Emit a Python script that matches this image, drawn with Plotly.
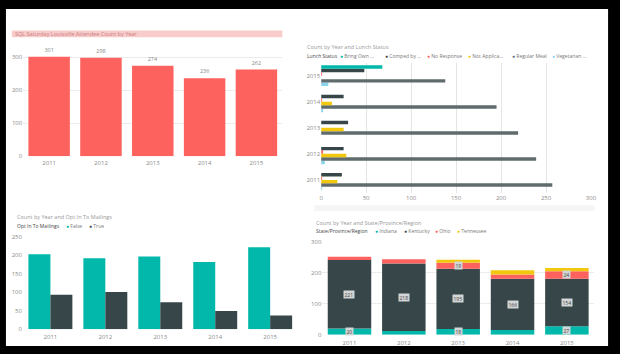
import plotly.graph_objects as go

W, H = 620, 354

def px(x):
    return x / W

def py(y):
    return 1 - y / H

# ---------------- data ----------------
years = ["2011", "2012", "2013", "2014", "2015"]
attendees = [301, 298, 274, 236, 262]

lunch_names = ["Bring Own ...", "Comped by ...", "No Response", "Not Applica...", "Regular Meal", "Vegetarian ..."]
bring_own = [0, 0, 0, 0, 68]
comped = [23, 25, 30, 25, 48]
no_response = [1, 2, 0, 1, 1]
not_applicable = [18, 28, 25, 12, 0]
regular_meal = [257, 239, 219, 195, 138]
vegetarian = [1, 4, 0, 2, 8]

opt_names = ["False", "True"]
opt_false = [203, 192, 197, 182, 222]
opt_true = [93, 101, 73, 49, 37]

state_names = ["Indiana", "Kentucky", "Ohio", "Tennessee"]
indiana = [20, 12, 18, 15, 27]
kentucky = [221, 218, 195, 166, 154]
ohio = [11, 14, 19, 13, 24]
tennessee = [0, 0, 10, 14, 10]

# ---------------- style ----------------
TEAL = "#01B8AA"
DARK = "#374649"
RED = "#FD625E"
YELLOW = "#F2C80F"
GRAY = "#5F6B6D"
LBLUE = "#8AD4EB"
FONT = "Open Sans"
TICK = dict(family=FONT, size=6, color="#8a8a8a")
GRID = "#ececec"

fig = go.Figure()

# Panel 1: attendee count
fig.add_trace(go.Bar(
    x=years, y=attendees, marker_color=RED, marker_line_width=0,
    text=[str(v) for v in attendees], textposition="outside",
    textfont=dict(family=FONT, size=5.5, color="#888"), cliponaxis=False,
    xaxis="x", yaxis="y", showlegend=False))

# Panel 2: lunch status (horizontal grouped)
lunch_series = [
    (lunch_names[0], bring_own, TEAL),
    (lunch_names[1], comped, DARK),
    (lunch_names[2], no_response, RED),
    (lunch_names[3], not_applicable, YELLOW),
    (lunch_names[4], regular_meal, GRAY),
    (lunch_names[5], vegetarian, LBLUE),
]
for name, vals, col in reversed(lunch_series):
    fig.add_trace(go.Bar(
        y=years, x=vals, orientation="h", name=name, marker_color=col,
        marker_line_width=0, xaxis="x2", yaxis="y2", showlegend=False))

# Panel 3: opt in
for name, vals, col in [(opt_names[0], opt_false, TEAL), (opt_names[1], opt_true, DARK)]:
    fig.add_trace(go.Bar(
        x=years, y=vals, name=name, marker_color=col, marker_line_width=0,
        xaxis="x3", yaxis="y3", showlegend=False))

# Panel 4: state stacked (explicit base, fixed width/offset)
state_series = [
    (state_names[0], indiana, TEAL),
    (state_names[1], kentucky, DARK),
    (state_names[2], ohio, RED),
    (state_names[3], tennessee, YELLOW),
]
base = [0] * len(years)
annotations = []
for name, vals, col in state_series:
    fig.add_trace(go.Bar(
        x=years, y=vals, base=list(base), name=name, marker_color=col,
        marker_line_width=0, width=0.8, offset=-0.4, xaxis="x4", yaxis="y4",
        showlegend=False))
    for i, (b, v) in enumerate(zip(base, vals)):
        if v >= 17:
            annotations.append(dict(
                x=i, y=b + v / 2, xref="x4", yref="y4", text=str(v),
                showarrow=False, font=dict(family=FONT, size=5, color="#444"),
                bgcolor="#d3d6d6", borderpad=0.5))
    base = [b + v for b, v in zip(base, vals)]

# ---------------- titles & legends ----------------
def note(x, y, text, size=5.5, color="#999", anchor="left"):
    annotations.append(dict(
        x=px(x), y=py(y), xref="paper", yref="paper", text=text,
        showarrow=False, xanchor=anchor, yanchor="middle",
        font=dict(family=FONT, size=size, color=color)))

def legend(x_title, y, title, items):
    note(x_title, y, title, size=5, color="#444")
    for xc, label, col in items:
        note(xc - 2.5, y, '<span style="color:%s">\u25CF</span> %s' % (col, label), size=5, color="#777")

note(11, 30.5, "SQL Saturday Louisville Attendee Count by Year", size=5.5, color="#c98080")
note(306.5, 44, "Count by Year and Lunch Status", size=5.5)
legend(307, 52.7, "Lunch Status", [
    (343, lunch_names[0], TEAL), (388, lunch_names[1], DARK), (430.7, lunch_names[2], RED),
    (473, lunch_names[3], YELLOW), (516.7, lunch_names[4], GRAY), (557.7, lunch_names[5], LBLUE)])
note(13, 218.3, "Count by Year and Opt In To Mailings", size=5.5)
legend(13, 226.7, "Opt In To Mailings", [(65.3, opt_names[0], TEAL), (88.3, opt_names[1], DARK)])
note(316.5, 224.3, "Count by Year and State/Province/Region", size=5.5)
legend(316.5, 232.7, "State/Province/Region", [
    (378.3, state_names[0], TEAL), (407.3, state_names[1], DARK),
    (439, state_names[2], RED), (461.7, state_names[3], YELLOW)])

shapes = [
    dict(type="rect", xref="paper", yref="paper", x0=px(4), x1=px(614), y0=py(350), y1=py(5),
         fillcolor="white", line_width=0, layer="below"),
    dict(type="rect", xref="paper", yref="paper", x0=px(10), x1=px(284), y0=py(34), y1=py(27),
         fillcolor="#f9cccc", line_width=0, layer="below"),
    dict(type="rect", xref="paper", yref="paper", x0=px(316), x1=px(600), y0=py(212), y1=py(206),
         fillcolor="#f5f5f5", line_width=0, layer="below"),
]

cat_axis = dict(type="category", showgrid=False, showline=False, zeroline=False,
                ticks="", tickfont=TICK, fixedrange=True)

fig.update_layout(
    width=W, height=H, margin=dict(l=0, r=0, t=0, b=0),
    paper_bgcolor="black", plot_bgcolor="rgba(0,0,0,0)",
    barmode="group", bargap=0.2, bargroupgap=0,
    showlegend=False,
    font=dict(family=FONT),
    xaxis=dict(cat_axis, domain=[px(21.5), px(284)], anchor="y", ticklabelstandoff=2),
    yaxis=dict(domain=[py(155.7), py(45)], range=[0, 327.5], dtick=100, anchor="x",
               showgrid=True, gridcolor=GRID, zeroline=False, showline=False,
               tickfont=TICK, ticks=""),
    xaxis2=dict(domain=[px(323.3), px(596.7)], range=[0, 300], dtick=50, anchor="y2",
                showgrid=True, gridcolor="#e4e4e4", zeroline=False, showline=False,
                tickfont=TICK, ticks=""),
    yaxis2=dict(cat_axis, domain=[py(193.3), py(60)], anchor="x2"),
    xaxis3=dict(cat_axis, domain=[px(21.2), px(299.5)], anchor="y3", ticklabelstandoff=3),
    yaxis3=dict(domain=[py(332.7), py(238.3)], range=[0, 250], dtick=50, anchor="x3",
                showgrid=False, zeroline=False, showline=False, tickfont=TICK, ticks=""),
    xaxis4=dict(cat_axis, domain=[px(324.5), px(599.8)], anchor="y4", ticklabelstandoff=3,
                categoryorder="array", categoryarray=years, range=[-0.5, 4.5]),
    yaxis4=dict(domain=[py(338.3), py(243.3)], range=[0, 300], dtick=100, anchor="x4",
                showgrid=True, gridcolor=GRID, zeroline=False, showline=False,
                tickfont=TICK, ticks=""),
    annotations=annotations,
    shapes=shapes,
)

fig.write_html("out.html")
